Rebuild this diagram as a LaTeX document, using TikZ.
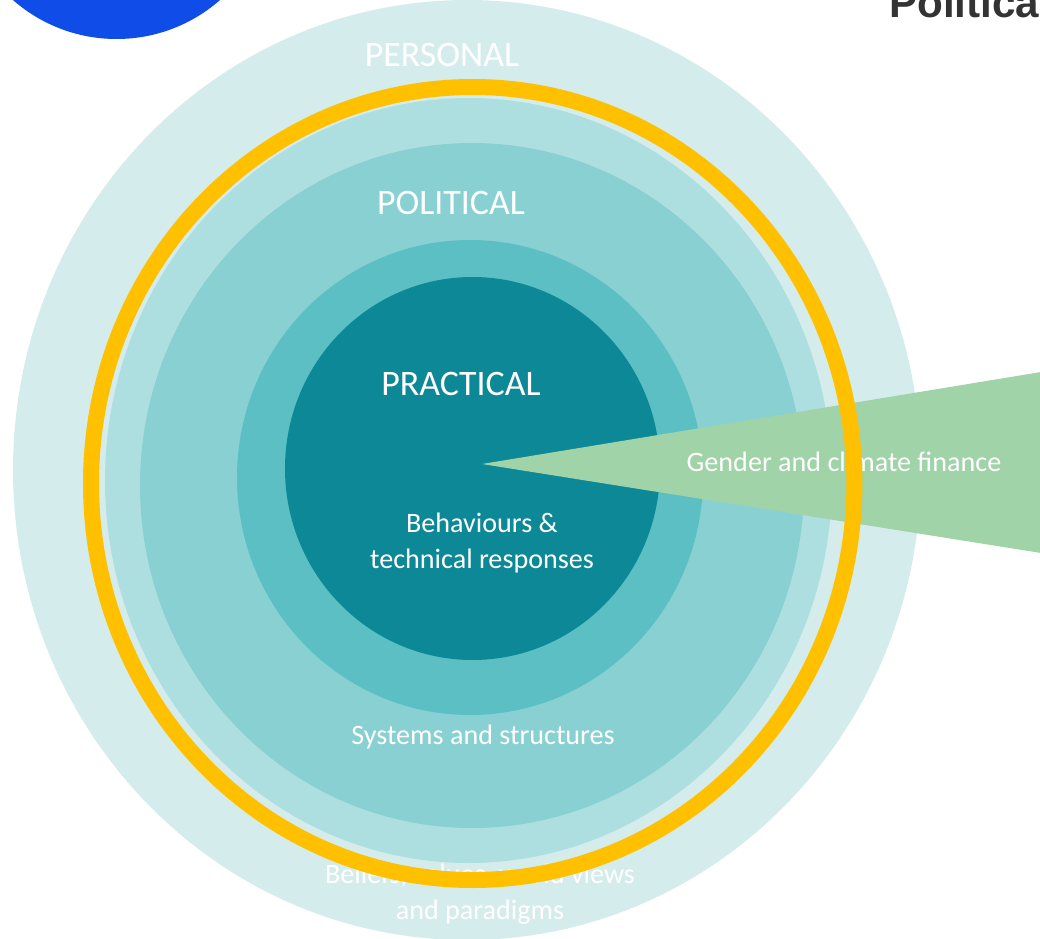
\documentclass[tikz,border=0pt]{standalone}
\usepackage{fontspec}
\setmainfont{Carlito}
\newfontfamily\headfont{Liberation Sans}
\usetikzlibrary{positioning}

\definecolor{personalbg}{RGB}{213,236,236}
\definecolor{politicalbg}{RGB}{174,223,224}
\definecolor{systemsbg}{RGB}{136,208,210}
\definecolor{practicalbg}{RGB}{91,191,196}
\definecolor{corebg}{RGB}{12,136,151}
\definecolor{ringyellow}{RGB}{255,192,0}
\definecolor{wedgegreen}{RGB}{160,211,168}
\definecolor{logoblue}{RGB}{16,76,232}
\definecolor{headgray}{RGB}{51,51,51}

\begin{document}
\begin{tikzpicture}[x=0.025cm, y=-0.025cm, every node/.style={inner sep=0pt},
    level/.style={text=white, font=\fontsize{25.5}{30}\selectfont},
    note/.style={text=white, align=center, font=\fontsize{20}{25.5}\selectfont}]
    \useasboundingbox (0,0) rectangle (1040,939);
    \fill[white] (0,0) rectangle (1040,939);

    % Logo and heading
    \fill[logoblue] (116.5,-118) circle [radius=157];
    \node[anchor=base west, text=headgray, font=\headfont\bfseries\fontsize{30}{36}\selectfont] (heading) at (889,18) {Politica};

    % Rings
    \fill[personalbg] (467,470) ellipse [x radius=454, y radius=470];
    \fill[politicalbg] (468.5,480.5) ellipse [x radius=363.5, y radius=382.5];
    \fill[systemsbg] (472,485.5) ellipse [x radius=332, y radius=342.5];
    \fill[practicalbg] (470,477.5) ellipse [x radius=233, y radius=237.5];
    \fill[corebg] (472.5,468.5) ellipse [x radius=187.5, y radius=191.5];

    % Labels
    \node[level, anchor=base] (personal) at (442,67) {PERSONAL};
    \node[level, anchor=base] (political) at (451,215) {POLITICAL};
    \node[level, anchor=base] (practical) at (461,395) {PRACTICAL};
    \node[note] (behaviours) at (482,543) {Behaviours \&\\technical responses};
    \node[note] (systems) at (483,737) {Systems and structures};
    \node[note] (beliefs) at (480,894) {Beliefs, values, world views\\and paradigms};

    % Wedge
    \coordinate (tip) at (482,464);
    \coordinate (wtop) at (1041,372);
    \coordinate (wbot) at (1041,553);
    \fill[wedgegreen] (tip) -- (wtop) -- (wbot) -- cycle;
    \node[note] (finance) at (844,462) {Gender and climate finance};

    % Yellow ring on top
    \draw[ringyellow, line width=0.4cm] (472.7,483.5) ellipse [x radius=381.7, y radius=396.5];
\end{tikzpicture}
\end{document}
